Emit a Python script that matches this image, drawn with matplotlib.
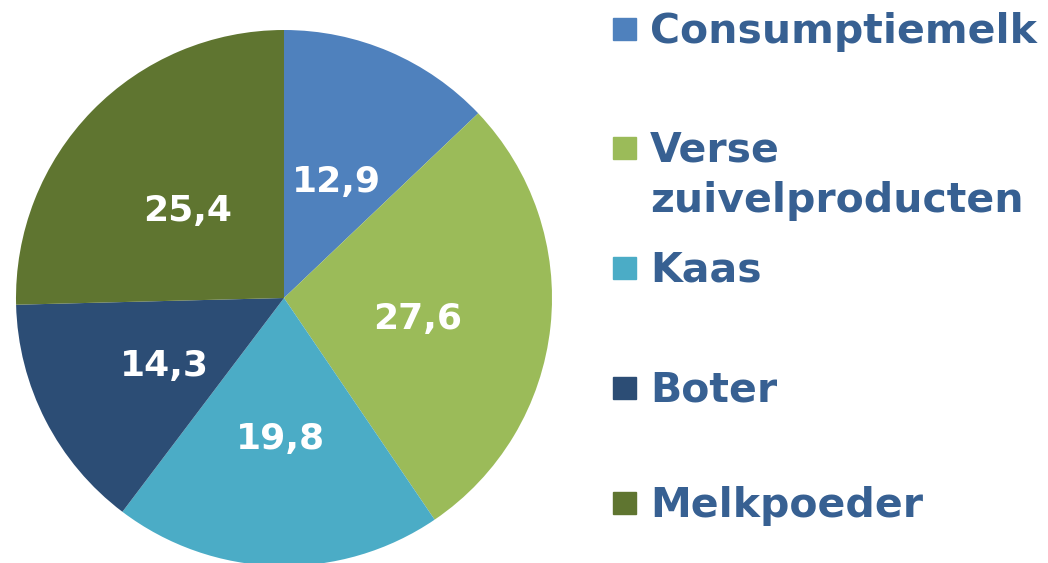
import matplotlib
matplotlib.use("Agg")
import matplotlib.pyplot as plt
from matplotlib.patches import Rectangle

categories = ["Consumptiemelk", "Verse\nzuivelproducten", "Kaas", "Boter", "Melkpoeder"]
values = [12.9, 27.6, 19.8, 14.3, 25.4]
value_labels = ["12,9", "27,6", "19,8", "14,3", "25,4"]
colors = ["#4F81BD", "#9BBB59", "#4BACC6", "#2C4D75", "#5F7530"]

W, H = 1048, 563
R = 268  # pie radius in pixels
fig = plt.figure(figsize=(W / 100, H / 100), dpi=100)
ax = fig.add_axes([(284 - R) / W, (H - 298 - R) / H, 2 * R / W, 2 * R / H])

wedges, texts = ax.pie(values, colors=colors, startangle=90, counterclock=False,
                       labels=value_labels, labeldistance=0.5,
                       wedgeprops=dict(linewidth=0),
                       textprops=dict(color="white", fontsize=26, fontweight="bold",
                                      family="DejaVu Sans"))
ax.set_xlim(-1, 1)
ax.set_ylim(-1, 1)

# labels centred on the slice, baseline a bit under the label point
for t in texts:
    x, y = t.get_position()
    t.set_position((x, y - 17 / R))
    t.set_ha("center")
    t.set_va("baseline")

# legend drawn by hand, the spacing in the original is uneven
legend_base = [43, 162, 282, 402, 517]
for name, col, yb in zip(categories, colors, legend_base):
    fig.patches.append(Rectangle((613 / W, (H - yb + 3) / H), 23 / W, 22 / H,
                                 transform=fig.transFigure, color=col))
    for i, line in enumerate(name.split("\n")):
        fig.text(650 / W, (H - yb - 50 * i) / H, line, color="#376092", fontsize=29.5,
                 fontweight="bold", family="DejaVu Sans", ha="left", va="baseline")

fig.savefig("out.png", dpi=100)
